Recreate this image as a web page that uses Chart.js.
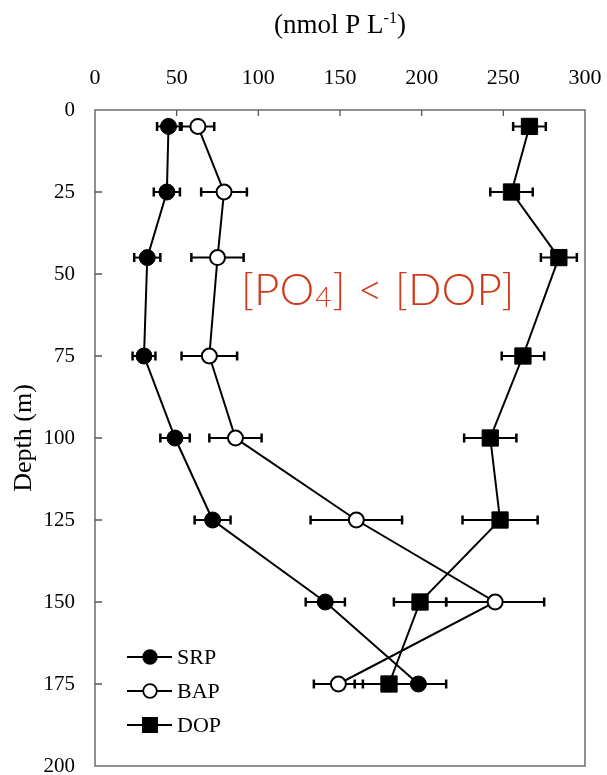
<!DOCTYPE html>
<html><head><meta charset="utf-8">
<script src="https://cdn.jsdelivr.net/npm/chart.js@4"></script>
<style>html,body{margin:0;padding:0;background:#fff}#wrap{position:relative;width:607px;height:775px}</style>
</head><body><div id="wrap"><canvas id="c"></canvas></div>
<script>
// ---- data ----
const depths = [5, 25, 45, 75, 100, 125, 150, 175];
const srp    = [45, 44, 32, 30, 49, 72, 141, 198];
const srpErr = [7, 8, 8, 7, 9, 11, 12, 17];
const bap    = [63, 79, 75, 70, 86, 160, 245, 149];
const bapErr = [10, 14, 16, 17, 16, 28, 30, 15];
const dop    = [266, 255, 284, 262, 242, 248, 199, 180];
const dopErr = [10, 13, 11, 13, 16, 23, 16, 21];
const seriesNames = ['SRP', 'BAP', 'DOP'];
const xTicks = [0, 50, 100, 150, 200, 250, 300];
const yTicks = [0, 25, 50, 75, 100, 125, 150, 175, 200];
const xTitleParts = ['(nmol P L', '-1', ')'];
const yTitle = 'Depth (m)';
const noteParts = ['[PO', '4', '] < [DOP]'];

const SERIF = '"Liberation Serif", "Times New Roman", serif';

function pts(vals) { return depths.map((d, i) => ({ x: vals[i], y: d })); }

const errorBars = {
  id: 'errorBars',
  beforeDatasetsDraw(chart) {
    const { ctx, scales: { x, y } } = chart;
    ctx.save();
    ctx.strokeStyle = '#000';
    chart.data.datasets.forEach(ds => {
      ds.data.forEach((p, i) => {
        const e = ds.errors[i];
        const x0 = x.getPixelForValue(p.x - e), x1 = x.getPixelForValue(p.x + e);
        const py = y.getPixelForValue(p.y);
        ctx.lineWidth = 2;
        ctx.beginPath(); ctx.moveTo(x0, py); ctx.lineTo(x1, py); ctx.stroke();
        ctx.lineWidth = 2.5;
        ctx.beginPath();
        ctx.moveTo(x0, py - 4.5); ctx.lineTo(x0, py + 4.5);
        ctx.moveTo(x1, py - 4.5); ctx.lineTo(x1, py + 4.5);
        ctx.stroke();
      });
    });
    ctx.restore();
  }
};

const frameAndExtras = {
  id: 'frameAndExtras',
  beforeDatasetsDraw(chart) {
    const { ctx, chartArea: a, scales: { x, y } } = chart;
    ctx.save();
    ctx.strokeStyle = '#555';
    ctx.lineWidth = 1.3;
    ctx.strokeRect(a.left, a.top, a.right - a.left, a.bottom - a.top);
    ctx.beginPath();
    xTicks.slice(1, -1).forEach(v => { const px = x.getPixelForValue(v); ctx.moveTo(px, a.top); ctx.lineTo(px, a.top + 6); });
    yTicks.slice(1, -1).forEach(v => { const py = y.getPixelForValue(v); ctx.moveTo(a.left, py); ctx.lineTo(a.left + 7, py); });
    ctx.stroke();
    ctx.restore();
  },
  afterDraw(chart) {
    const { ctx, chartArea: a } = chart;
    ctx.save();
    // x axis title with superscript
    ctx.fillStyle = '#000';
    ctx.textBaseline = 'alphabetic';
    ctx.font = '27px ' + SERIF;
    const w1 = ctx.measureText(xTitleParts[0]).width;
    const w3 = ctx.measureText(xTitleParts[2]).width;
    ctx.font = '16px ' + SERIF;
    const w2 = ctx.measureText(xTitleParts[1]).width;
    const total = w1 + w2 + w3;
    let tx = (a.left + a.right) / 2 - total / 2;
    ctx.font = '27px ' + SERIF;
    ctx.fillText(xTitleParts[0], tx, 33); tx += w1;
    ctx.font = '16px ' + SERIF;
    ctx.fillText(xTitleParts[1], tx, 23); tx += w2;
    ctx.font = '27px ' + SERIF;
    ctx.fillText(xTitleParts[2], tx, 33);

    // legend
    const legY = [657, 691, 725];
    chart.data.datasets.forEach((ds, i) => {
      const yy = legY[i];
      ctx.strokeStyle = '#000'; ctx.lineWidth = 2;
      ctx.beginPath(); ctx.moveTo(127, yy); ctx.lineTo(172, yy); ctx.stroke();
      ctx.fillStyle = ds.pointBackgroundColor; ctx.strokeStyle = '#000'; ctx.lineWidth = 1.8;
      Chart.helpers.drawPoint(ctx, { pointStyle: ds.pointStyle, radius: ds.pointStyle === 'rect' ? 10 : 6.8, rotation: 0, borderWidth: 1.8 }, 150, yy);
      ctx.fillStyle = '#000';
      ctx.font = '22px ' + SERIF;
      ctx.textBaseline = 'middle';
      ctx.fillText(ds.label, 177, yy + 1);
    });

    // red annotation
    ctx.textBaseline = 'alphabetic';
    ctx.fillStyle = '#d0391b';
    let nx = 241;
    ctx.font = '300 44px Lato, "Open Sans", sans-serif';
    ctx.fillText(noteParts[0], nx, 305); nx += ctx.measureText(noteParts[0]).width;
    ctx.font = '300 28px Lato, "Open Sans", sans-serif';
    ctx.fillText(noteParts[1], nx + 1, 307); nx += ctx.measureText(noteParts[1]).width + 2;
    ctx.font = '300 44px Lato, "Open Sans", sans-serif';
    ctx.fillText(noteParts[2], nx, 305);
    ctx.restore();
  }
};

new Chart(document.getElementById('c'), {
  type: 'scatter',
  data: {
    datasets: [
      { label: seriesNames[0], data: pts(srp), errors: srpErr, showLine: true, borderColor: '#000', borderWidth: 2,
        pointStyle: 'circle', pointRadius: 8, pointBackgroundColor: '#000', pointBorderColor: '#000', pointBorderWidth: 1 },
      { label: seriesNames[1], data: pts(bap), errors: bapErr, showLine: true, borderColor: '#000', borderWidth: 2,
        pointStyle: 'circle', pointRadius: 7.5, pointBackgroundColor: '#fff', pointBorderColor: '#000', pointBorderWidth: 2 },
      { label: seriesNames[2], data: pts(dop), errors: dopErr, showLine: true, borderColor: '#000', borderWidth: 2,
        pointStyle: 'rect', pointRadius: 11.5, pointBackgroundColor: '#000', pointBorderColor: '#000', pointBorderWidth: 1 }
    ]
  },
  options: {
    responsive: true, maintainAspectRatio: false, animation: false,
    layout: { autoPadding: false, padding: { left: 0, top: 0, right: 22, bottom: 9 } },
    plugins: { legend: { display: false }, tooltip: { enabled: false } },
    scales: {
      x: {
        type: 'linear', position: 'top', min: 0, max: 300,
        afterBuildTicks: s => { s.ticks = xTicks.map(v => ({ value: v })); },
        afterFit: s => { s.height = 110; s.paddingLeft = 0; s.paddingRight = 0; },
        grid: { display: false, drawTicks: false }, border: { display: false },
        ticks: { color: '#000', font: { family: SERIF, size: 22 }, padding: 19, maxRotation: 0, autoSkip: false }
      },
      y: {
        type: 'linear', reverse: true, min: 0, max: 200,
        afterBuildTicks: s => { s.ticks = yTicks.map(v => ({ value: v })); },
        afterFit: s => { s.width = 95; s.paddingTop = 0; s.paddingBottom = 0; },
        grid: { display: false, drawTicks: false }, border: { display: false },
        ticks: { color: '#000', font: { family: SERIF, size: 21 }, padding: 20, autoSkip: false },
        title: { display: true, text: yTitle, color: '#000', font: { family: SERIF, size: 26 }, padding: { top: 9, bottom: 0 } }
      }
    }
  },
  plugins: [errorBars, frameAndExtras]
});
</script>
</body></html>
